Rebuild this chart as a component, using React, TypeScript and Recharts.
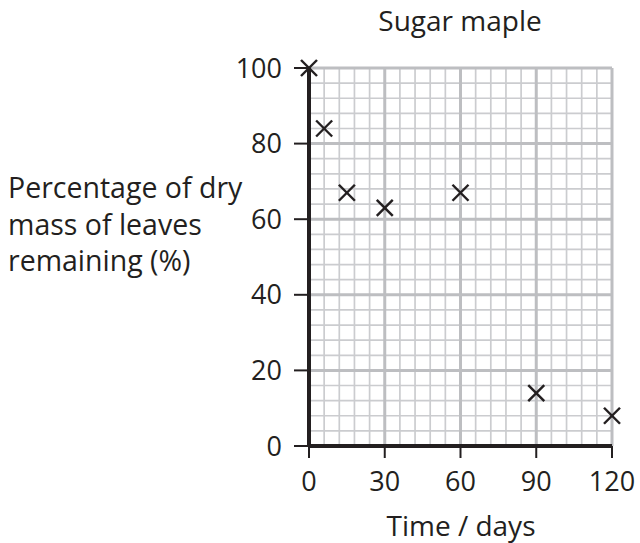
import React from 'react';
import {
  ScatterChart,
  Scatter,
  XAxis,
  YAxis,
  ReferenceLine,
} from 'recharts';

const days = [0, 6, 15, 30, 60, 90, 120];
const massRemaining = [100, 84, 67, 63, 67, 14, 8];

const xTicks = [0, 30, 60, 90, 120];
const yTicks = [0, 20, 40, 60, 80, 100];
const xMinor = [6, 12, 18, 24, 36, 42, 48, 54, 66, 72, 78, 84, 96, 102, 108, 114];
const yMinor = [4, 8, 12, 16, 24, 28, 32, 36, 44, 48, 52, 56, 64, 68, 72, 76, 84, 88, 92, 96];

const points = days.map((d, i) => ({ day: d, pct: massRemaining[i] }));

const INK = '#231f20';
const FONT = '"Open Sans", "Noto Sans", sans-serif';

function Cross(props: any) {
  const { cx, cy } = props;
  const s = 8;
  return (
    <g stroke={INK} strokeWidth={2.4}>
      <line x1={cx - s} y1={cy - s} x2={cx + s} y2={cy + s} />
      <line x1={cx - s} y1={cy + s} x2={cx + s} y2={cy - s} />
    </g>
  );
}

export default function App() {
  return (
    <div style={{ position: 'absolute', left: 0, top: 0, width: 640, height: 543, background: '#fff', fontFamily: FONT, color: INK }}>
      <ScatterChart
        width={640}
        height={543}
        margin={{ top: 68, right: 28, left: 249, bottom: 37 }}
      >
        {xMinor.map((v) => (
          <ReferenceLine key={'xm' + v} x={v} stroke="#cbcccf" strokeWidth={1.7} />
        ))}
        {yMinor.map((v) => (
          <ReferenceLine key={'ym' + v} y={v} stroke="#cbcccf" strokeWidth={1.7} />
        ))}
        {xTicks.slice(1).map((v) => (
          <ReferenceLine key={'xM' + v} x={v} stroke="#bdbec1" strokeWidth={3} />
        ))}
        {yTicks.slice(1).map((v) => (
          <ReferenceLine key={'yM' + v} y={v} stroke="#bdbec1" strokeWidth={3} />
        ))}
        <XAxis
          type="number"
          dataKey="day"
          domain={[0, 120]}
          ticks={xTicks}
          height={60}
          axisLine={{ stroke: INK, strokeWidth: 4 }}
          tickLine={{ stroke: INK, strokeWidth: 2 }}
          tickSize={12}
          tick={{ fill: INK, fontSize: 27, fontFamily: FONT, dy: 12 }}
        />
        <YAxis
          type="number"
          dataKey="pct"
          domain={[0, 100]}
          ticks={yTicks}
          width={60}
          axisLine={{ stroke: INK, strokeWidth: 4 }}
          tickLine={{ stroke: INK, strokeWidth: 2 }}
          tickSize={15}
          tick={{ fill: INK, fontSize: 27, fontFamily: FONT, dx: -10 }}
        />
        <Scatter data={points} shape={<Cross />} isAnimationActive={false} />
      </ScatterChart>
      <div style={{ position: 'absolute', left: 310, width: 300, top: 2, textAlign: 'center', fontSize: 28, lineHeight: '36px' }}>
        Sugar maple
      </div>
      <div style={{ position: 'absolute', left: 311, width: 300, top: 507, textAlign: 'center', fontSize: 28, lineHeight: '36px' }}>
        Time / days
      </div>
      <div style={{ position: 'absolute', left: 8, top: 169, fontSize: 28.5, lineHeight: '36.5px', whiteSpace: 'nowrap' }}>
        Percentage of dry
        <br />
        mass of leaves
        <br />
        remaining (%)
      </div>
    </div>
  );
}
